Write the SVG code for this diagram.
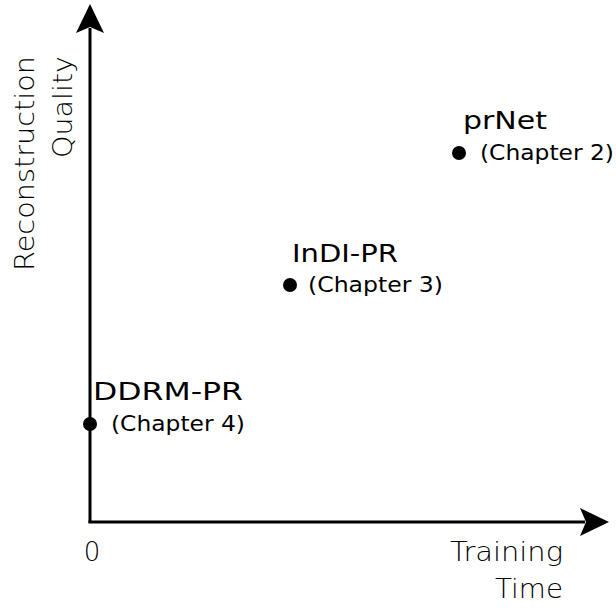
<svg xmlns="http://www.w3.org/2000/svg" width="616" height="608" viewBox="0 0 616 608">
  <style>
    .axis { stroke: #000; stroke-width: 3; fill: none; }
    .head { fill: #000; }
    .dot { fill: #000; }
    .lbl { font-family: "DejaVu Sans", "Liberation Sans", sans-serif; font-weight: 200; font-size: 26px; fill: #000; }
    .name { font-family: "DejaVu Sans", "Liberation Sans", sans-serif; font-weight: 400; font-size: 25px; fill: #000; }
    .ch { font-family: "DejaVu Sans", "Liberation Sans", sans-serif; font-weight: 400; font-size: 21px; fill: #000; }
  </style>
  <rect width="616" height="608" fill="#fff"/>

  <!-- axes -->
  <g id="axes">
    <line class="axis" x1="90" y1="523" x2="90" y2="28"/>
    <polygon class="head" points="90,4 104,33 90,27 76,33"/>
    <line class="axis" x1="88.5" y1="522" x2="585" y2="522"/>
    <polygon class="head" points="609,522 580,536 586,522 580,508"/>
  </g>

  <!-- axis labels -->
  <g id="y-label">
    <text class="lbl" text-anchor="end" transform="translate(34,56) rotate(-90)" textLength="215" lengthAdjust="spacingAndGlyphs">Reconstruction</text>
    <text class="lbl" text-anchor="end" transform="translate(72,56) rotate(-90)" textLength="102" lengthAdjust="spacingAndGlyphs">Quality</text>
  </g>
  <g id="x-label">
    <text class="lbl" x="450" y="561" textLength="113" lengthAdjust="spacingAndGlyphs">Training</text>
    <text class="lbl" x="495" y="598" textLength="68" lengthAdjust="spacingAndGlyphs">Time</text>
  </g>
  <text class="lbl" x="92" y="561" text-anchor="middle">0</text>

  <!-- data points -->
  <g id="prnet">
    <circle class="dot" cx="459" cy="153" r="7"/>
    <text class="name" x="463" y="129" textLength="84" lengthAdjust="spacingAndGlyphs">prNet</text>
    <text class="ch" x="480" y="160" textLength="134" lengthAdjust="spacingAndGlyphs">(Chapter 2)</text>
  </g>
  <g id="indi-pr">
    <circle class="dot" cx="290" cy="285" r="7"/>
    <text class="name" x="292" y="262" textLength="106" lengthAdjust="spacingAndGlyphs">InDI-PR</text>
    <text class="ch" x="308" y="292" textLength="135" lengthAdjust="spacingAndGlyphs">(Chapter 3)</text>
  </g>
  <g id="ddrm-pr">
    <circle class="dot" cx="90" cy="424" r="7"/>
    <text class="name" x="93" y="400" textLength="150" lengthAdjust="spacingAndGlyphs">DDRM-PR</text>
    <text class="ch" x="111" y="431" textLength="134" lengthAdjust="spacingAndGlyphs">(Chapter 4)</text>
  </g>
</svg>
